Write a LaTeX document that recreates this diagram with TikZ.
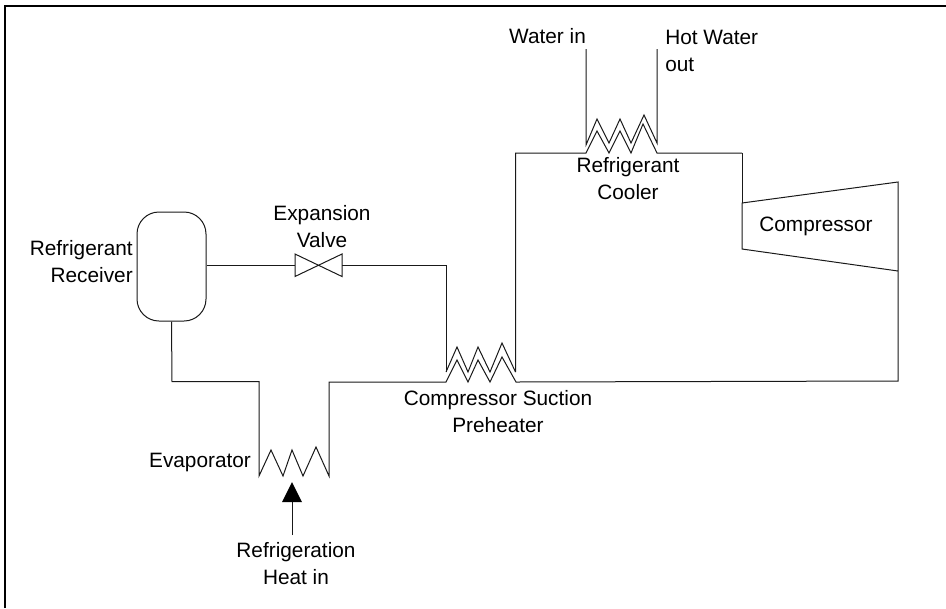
\documentclass[tikz,border=0pt]{standalone}
\usepackage{fontspec}
\setmainfont{Liberation Sans}
\begin{document}
\begin{tikzpicture}[x=0.75pt,y=-0.75pt,
  pipe/.style={draw=black!90,line width=0.75pt,line join=miter},
  frameline/.style={draw=black,line width=1.5pt},
  lab/.style={font=\fontsize{15.6pt}{20.25pt}\selectfont,inner sep=0pt,align=center,text=black}]
\useasboundingbox (0,0) rectangle (946,608);
\coordinate (fbl) at (5,608);
\coordinate (ftl) at (5,5.5);
\coordinate (ftr) at (946,5.5);
\draw[frameline] (fbl) -- (ftl) -- (ftr);
% receiver
\node[draw=black!90,line width=0.75pt,rounded corners=16.5pt,minimum width=51.75pt,minimum height=81.75pt,inner sep=0pt] (recv) at (171.5,266.5) {};
% valve
\coordinate (vl) at (295,265.5);
\coordinate (vr) at (342,265.5);
\draw[pipe] (295,254) -- (342,276.5) -- (342,254) -- (295,276.5) -- cycle;
\draw[pipe] (recv.east |- vl) -- (vl);
\draw[pipe] (vr) -- (446,265.5) -- (446,372);
% preheater
\draw[pipe] (446,372) -- (457,347) -- (468,372) -- (478,347) -- (490,372) -- (502,343) -- (515.5,372);
\draw[pipe] (515.5,372) -- (515.5,153) -- (586,153) -- (597,131) -- (609,153) -- (620,131) -- (631,153) -- (643,124) -- (657,153) -- (742,153);
\draw[pipe] (recv.south) -- (172,381.5) -- (259,381.5) -- (259,476) -- (271,450) -- (283,476) -- (292,450) -- (303,476) -- (316,447) -- (329,476) -- (329,382) -- (446,382) -- (457,360) -- (468,382) -- (478,360) -- (490,382) -- (502,357) -- (516,382) -- (898,381) -- (898,182) -- (742,203) -- (742,249) -- (898,271);
\draw[pipe] (742,153) -- (742,203);
% cooler water
\draw[pipe] (586,49) -- (586,145) -- (597,119) -- (609,143) -- (620,119) -- (631,143) -- (644,115) -- (657,143) -- (657,49);
% heat arrow
\coordinate (hs) at (292,535);
\coordinate (ht) at (292,502);
\draw[pipe] (hs) -- (ht);
\fill[black] (292,482) -- (302,502) -- (282,502) -- cycle;
% labels
\node[lab,align=right,anchor=east] (l1) at (133,261.5) {Refrigerant\\Receiver};
\node[lab] (l2) at (322,227) {Expansion\\Valve};
\node[lab] (l3) at (547.5,36) {Water in};
\node[lab,align=left,anchor=west] (l4) at (665,50.5) {Hot Water\\out};
\node[lab] (l5) at (628,178.5) {Refrigerant\\Cooler};
\node[lab] (l6) at (816,226) {Compressor};
\node[lab] (l7) at (498,411.5) {Compressor Suction\\Preheater};
\node[lab] (l8) at (200,462) {Evaporator};
\node[lab] (l9) at (296,563.5) {Refrigeration\\Heat in};
\end{tikzpicture}
\end{document}
